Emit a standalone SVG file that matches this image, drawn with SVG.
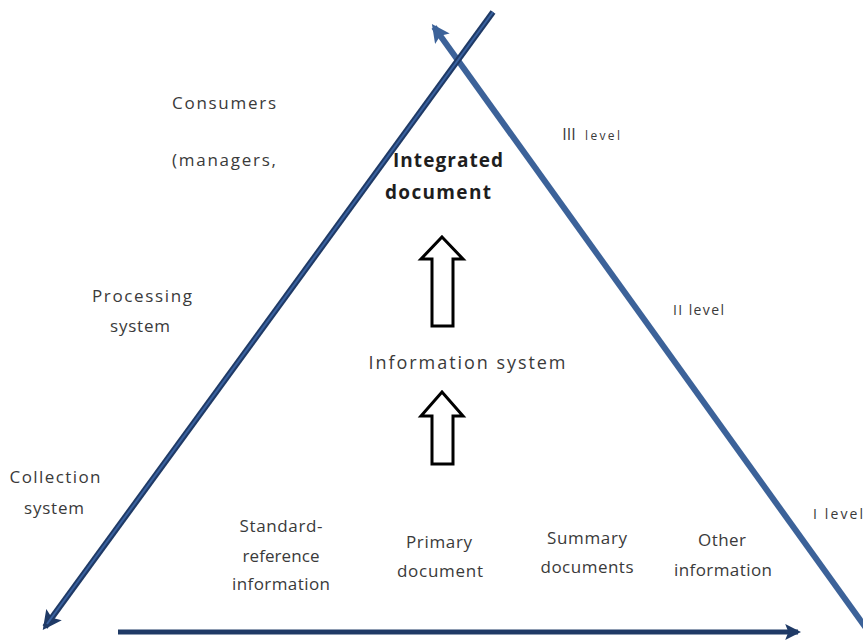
<svg xmlns="http://www.w3.org/2000/svg" width="863" height="642" viewBox="0 0 863 642">
<style>
.t{font-family:"Open Sans","Liberation Sans",Arial,sans-serif;font-size:17px;fill:#3a3a3a;text-anchor:middle}
.b{font-family:"Open Sans","Liberation Sans",Arial,sans-serif;font-size:19px;font-weight:bold;fill:#1e1e1e;text-anchor:middle}
.s{font-family:"Open Sans","Liberation Sans",Arial,sans-serif;font-size:12px;fill:#3a3a3a}
.hollow{fill:#fff;stroke:#000;stroke-width:3;stroke-linejoin:miter}
</style>
<defs>
<marker id="ah" viewBox="0 0 10 10" refX="8" refY="5" markerWidth="3.2" markerHeight="3.2" orient="auto" markerUnits="strokeWidth">
<path d="M0,0 L10,5 L0,10 L2,5 z" fill="#1f3a66"/>
</marker>
<marker id="ah2" viewBox="0 0 10 10" refX="8" refY="5" markerWidth="3" markerHeight="3" orient="auto" markerUnits="strokeWidth">
<path d="M0,0 L10,5 L0,10 L2,5 z" fill="#3c6299"/>
</marker>
</defs>
<rect width="863" height="642" fill="#fff"/>
<g id="connectors">
<line x1="876" y1="642" x2="434" y2="27" stroke="#3c6299" stroke-width="6" marker-end="url(#ah2)"/>
<line x1="493" y1="12" x2="45" y2="627" stroke="#1f3a66" stroke-width="6" marker-end="url(#ah)"/>
<line x1="493" y1="12" x2="47" y2="624" stroke="#3a62a0" stroke-width="2"/>
<line x1="118" y1="632" x2="798" y2="632" stroke="#1f3a66" stroke-width="5" marker-end="url(#ah)"/>
</g>
<g id="arrow-upper">
<path class="hollow" d="M442,237 L463,259 L453,259 L453,326 L432,326 L432,259 L421,259 Z"/>
</g>
<g id="arrow-lower">
<path class="hollow" d="M442,392 L463,416 L453,416 L453,464 L432,464 L432,416 L421,416 Z"/>
</g>
<g id="consumers">
<text class="t" x="224" y="109" textLength="104" lengthAdjust="spacing">Consumers</text>
<text class="t" x="224" y="166" textLength="104" lengthAdjust="spacing">(managers,</text>
</g>
<g id="integrated-document">
<text class="b" x="448" y="167" textLength="110" lengthAdjust="spacing">Integrated</text>
<text class="b" x="438" y="199" textLength="106" lengthAdjust="spacing">document</text>
</g>
<g id="level3">
<text class="t" x="569" y="140" style="font-size:16px">III</text>
<text class="s" x="585" y="140" textLength="35" lengthAdjust="spacing">level</text>
</g>
<g id="processing-system">
<text class="t" x="142" y="302" textLength="100" lengthAdjust="spacing">Processing</text>
<text class="t" x="140" y="332" textLength="60" lengthAdjust="spacing">system</text>
</g>
<g id="level2">
<text class="s" x="673" y="315" style="font-size:14px" textLength="51" lengthAdjust="spacing">II level</text>
</g>
<g id="information-system">
<text class="t" x="467" y="369" style="font-size:18px" textLength="197" lengthAdjust="spacing">Information system</text>
</g>
<g id="collection-system">
<text class="t" x="55" y="483" textLength="91" lengthAdjust="spacing">Collection</text>
<text class="t" x="54" y="514" textLength="60" lengthAdjust="spacing">system</text>
</g>
<g id="level1">
<text class="s" x="813" y="519" style="font-size:14px" textLength="50" lengthAdjust="spacing">I level</text>
</g>
<g id="standard-reference">
<text class="t" x="281" y="532" textLength="83" lengthAdjust="spacing">Standard-</text>
<text class="t" x="281" y="562" textLength="77" lengthAdjust="spacing">reference</text>
<text class="t" x="281" y="590" textLength="98" lengthAdjust="spacing">information</text>
</g>
<g id="primary-document">
<text class="t" x="439" y="548" textLength="66" lengthAdjust="spacing">Primary</text>
<text class="t" x="440" y="577" textLength="86" lengthAdjust="spacing">document</text>
</g>
<g id="summary-documents">
<text class="t" x="587" y="544" textLength="80" lengthAdjust="spacing">Summary</text>
<text class="t" x="587" y="573" textLength="93" lengthAdjust="spacing">documents</text>
</g>
<g id="other-information">
<text class="t" x="722" y="546" textLength="48" lengthAdjust="spacing">Other</text>
<text class="t" x="723" y="576" textLength="98" lengthAdjust="spacing">information</text>
</g>
</svg>
